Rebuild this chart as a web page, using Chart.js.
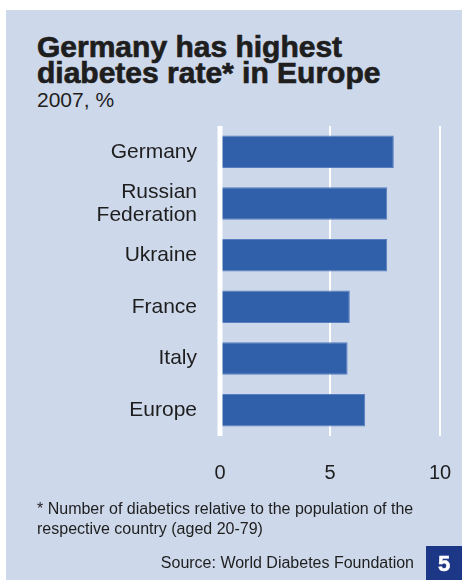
<!DOCTYPE html>
<html lang="en">

<head>
    <meta charset="UTF-8">
    <title>Diabetes rate in Europe</title>
    <script src="https://cdn.jsdelivr.net/npm/chart.js@4.4.0/dist/chart.umd.min.js"></script>
    <style>
        body { margin: 0; background: #fff; width: 462px; height: 580px; overflow: hidden; position: relative; font-family: "Liberation Sans", Arial, sans-serif; }
        #panel { position: absolute; left: 6px; top: 10px; width: 456px; height: 570px; background: #cdd8ea; }
        #chart { position: absolute; left: 0; top: 0; }
        .txt { position: absolute; color: #1e1e1e; white-space: nowrap; }
        #title { left: 37px; top: 34px; font-size: 30px; line-height: 26px; font-weight: bold; -webkit-text-stroke: 0.7px #1e1e1e; }
        #sub { left: 37px; top: 90px; font-size: 21px; line-height: 20px; }
        #note { left: 37px; top: 499px; font-size: 16px; line-height: 20px; }
        #source { right: 48px; top: 553px; font-size: 16px; line-height: 20px; }
        #page { position: absolute; left: 426px; top: 546px; width: 36px; height: 34px; background: #1b3786; color: #fff; font-weight: bold; font-size: 22px; line-height: 36px; text-align: center; -webkit-text-stroke: 0.5px #fff; }
    </style>
</head>

<body>
    <div id="panel"></div>
    <div class="txt" id="title">Germany has highest<br>diabetes rate* in Europe</div>
    <div class="txt" id="sub">2007, %</div>
    <canvas id="chart" width="462" height="580"></canvas>
    <div class="txt" id="note">* Number of diabetics relative to the population of the<br>respective country (aged 20-79)</div>
    <div class="txt" id="source">Source: World Diabetes Foundation</div>
    <div id="page">5</div>

    <script>
        // data
        const countries = ['Germany', ['Russian', 'Federation'], 'Ukraine', 'France', 'Italy', 'Europe'];
        const rates = [7.9, 7.6, 7.6, 5.9, 5.8, 6.6];
        const xTicks = [0, 5, 10];

        // zero line sits on top of the bars
        const zeroLine = {
            id: 'zeroLine',
            afterDatasetsDraw(chart) {
                const x = chart.scales.x.getPixelForValue(0);
                const area = chart.chartArea;
                const ctx = chart.ctx;
                ctx.save();
                ctx.strokeStyle = '#ffffff';
                ctx.lineWidth = 5;
                ctx.beginPath();
                ctx.moveTo(x, area.top);
                ctx.lineTo(x, area.bottom);
                ctx.stroke();
                ctx.restore();
            }
        };

        new Chart(document.getElementById('chart'), {
            type: 'bar',
            data: {
                labels: countries,
                datasets: [{
                    data: rates,
                    backgroundColor: '#3060a9',
                    borderColor: '#5a7ec0',
                    borderWidth: 1,
                    borderSkipped: false,
                    barPercentage: 0.63,
                    categoryPercentage: 1
                }]
            },
            options: {
                indexAxis: 'y',
                responsive: false,
                animation: false,
                devicePixelRatio: 1,
                layout: { padding: { top: 126, right: 22, bottom: 94, left: 0 } },
                plugins: { legend: { display: false }, tooltip: { enabled: false } },
                scales: {
                    x: {
                        min: 0,
                        max: 10,
                        afterBuildTicks: (s) => { s.ticks = xTicks.map(v => ({ value: v })); },
                        afterFit: (s) => { s.height = 50; s.paddingLeft = 0; s.paddingRight = 0; },
                        border: { display: false },
                        grid: { color: '#ffffff', lineWidth: 2, drawTicks: false },
                        ticks: { color: '#1e1e1e', padding: 25, font: { family: 'Liberation Sans', size: 20 } }
                    },
                    y: {
                        afterFit: (s) => { s.width = 220; s.paddingTop = 0; s.paddingBottom = 0; },
                        border: { display: false },
                        grid: { display: false, drawTicks: false },
                        ticks: { color: '#1e1e1e', padding: 23, font: { family: 'Liberation Sans', size: 21, lineHeight: 1.1 } }
                    }
                }
            },
            plugins: [zeroLine]
        });
    </script>
</body>

</html>
